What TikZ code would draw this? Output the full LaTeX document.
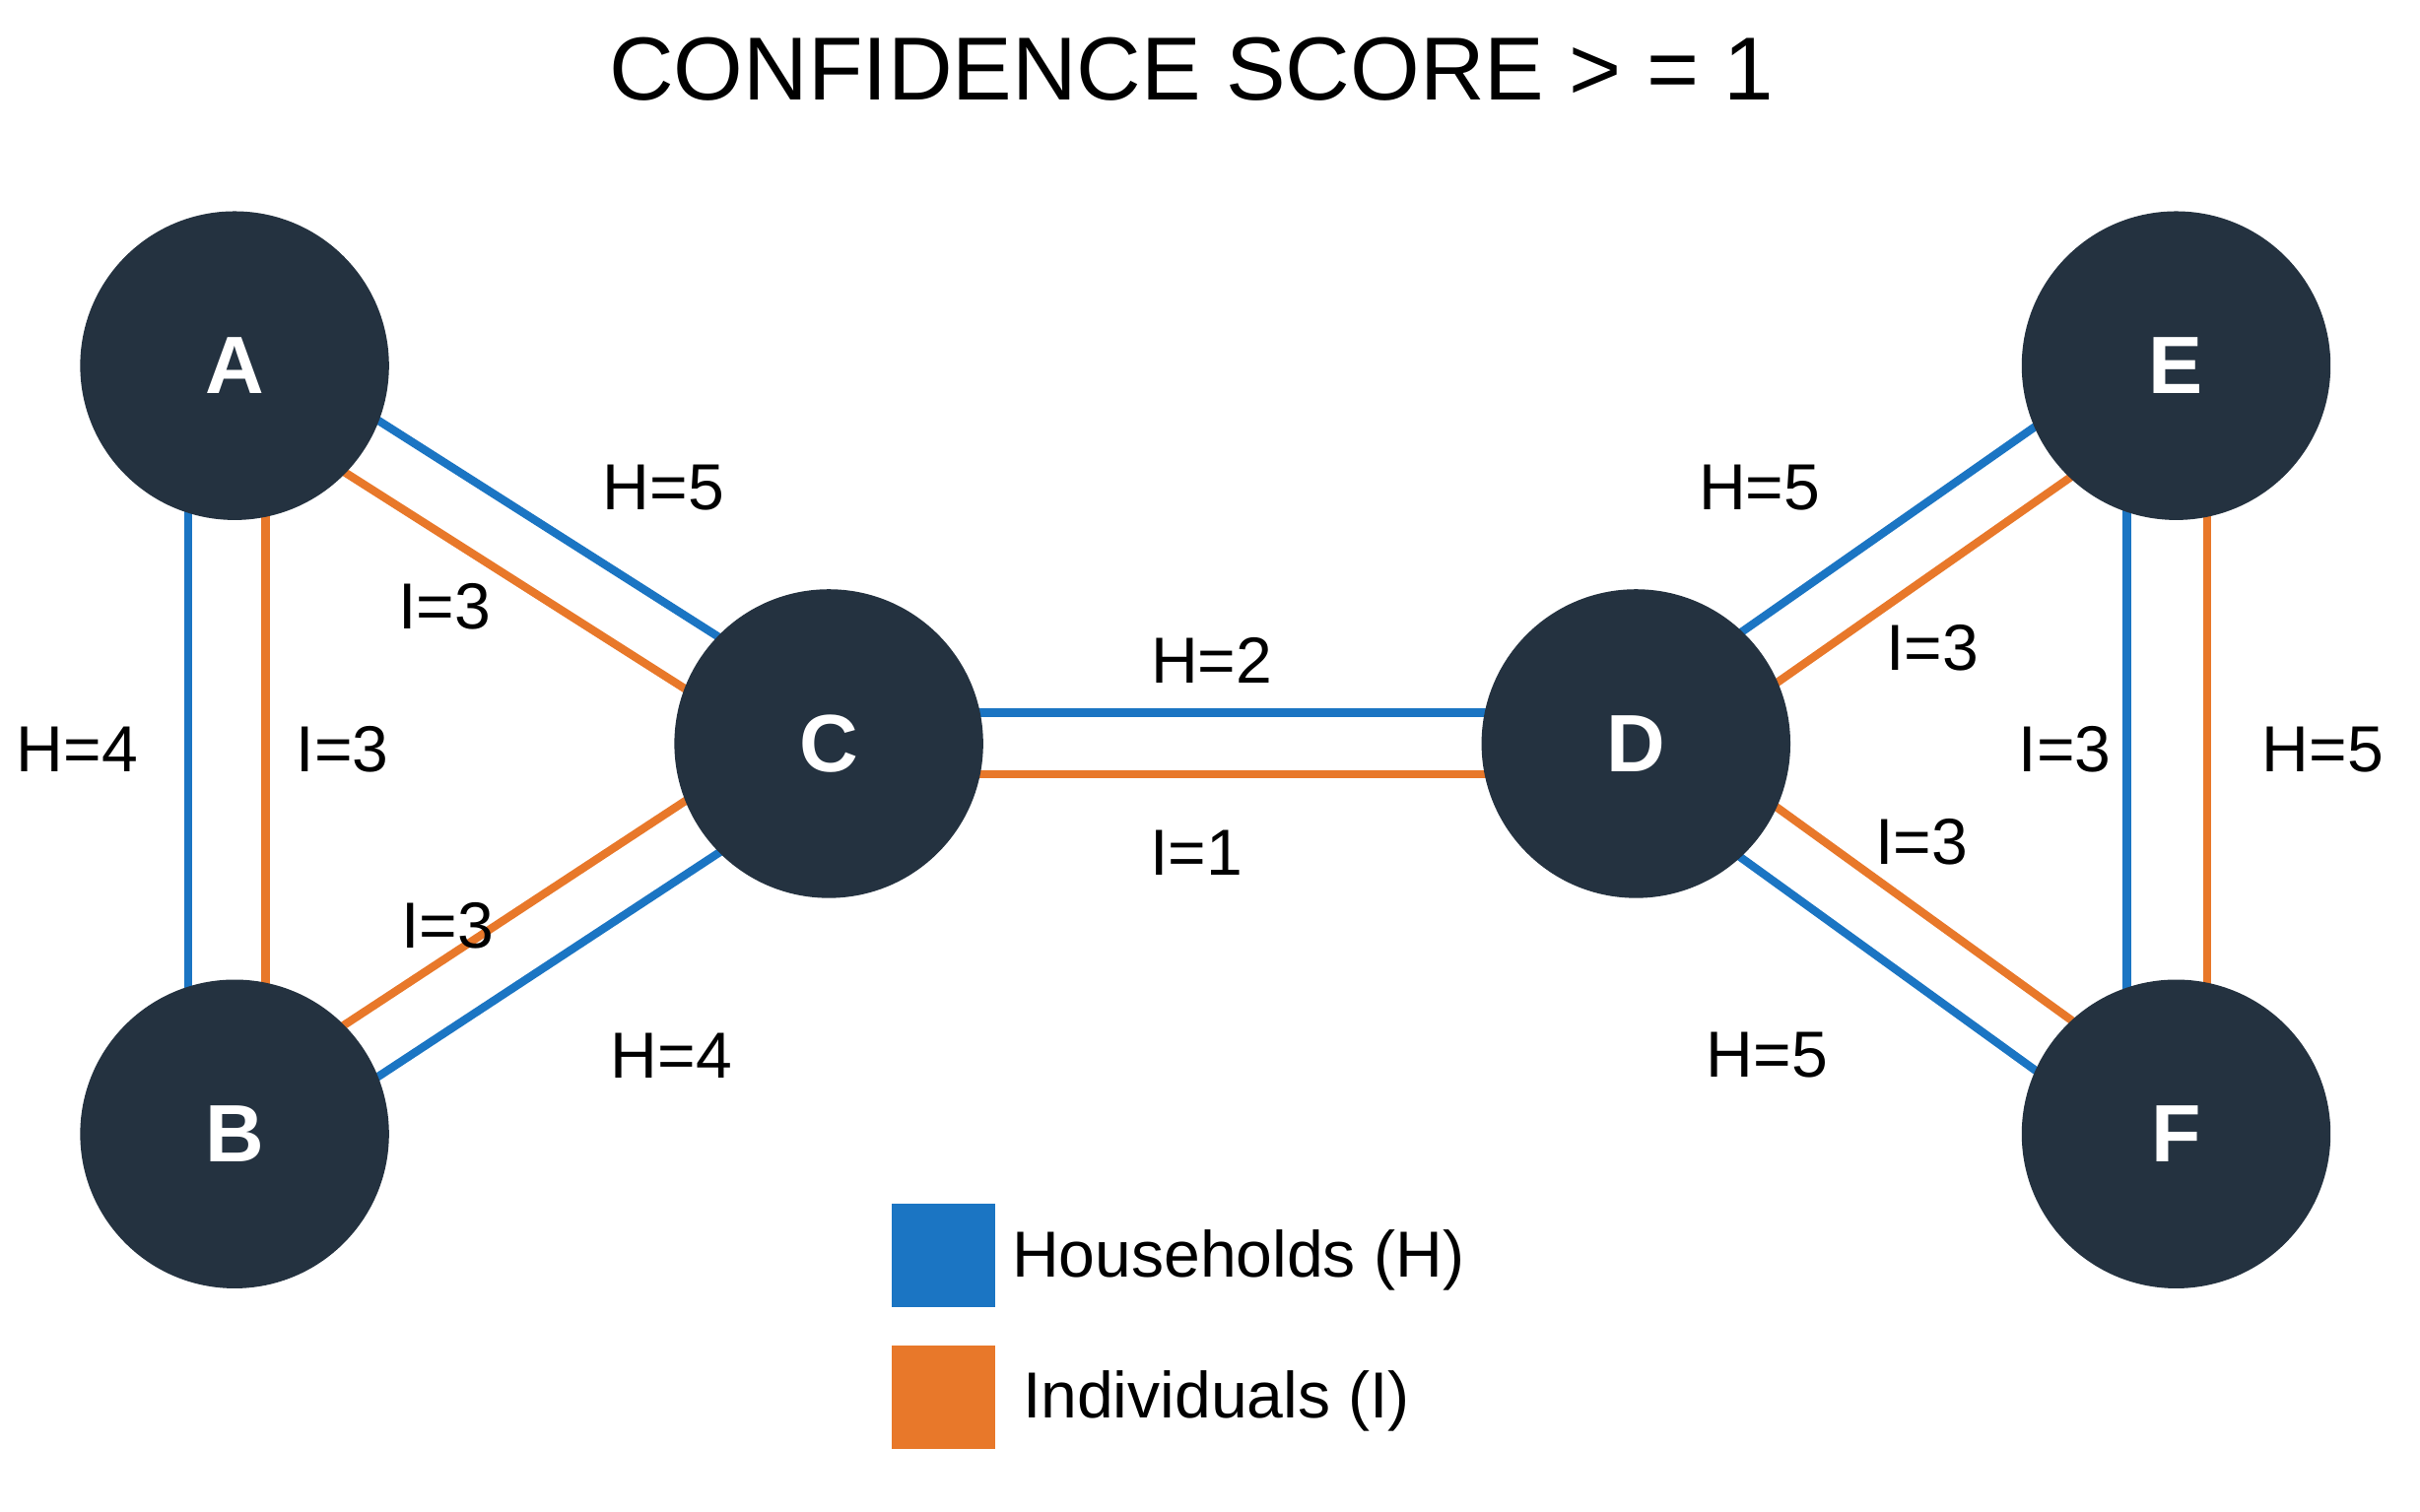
\documentclass[tikz,border=0pt]{standalone}
\usepackage{fontspec}
\setmainfont{Liberation Sans}
\usetikzlibrary{calc}
\definecolor{hblue}{HTML}{1B75C3}
\definecolor{iorange}{HTML}{E8782A}
\definecolor{ndark}{HTML}{243240}
\begin{document}
\begin{tikzpicture}[x=0.01cm,y=-0.01cm,
  nd/.style={circle,fill=ndark,minimum size=2cm,inner sep=0pt,text=white,font=\fontsize{15}{15}\selectfont\bfseries},
  hl/.style={draw=hblue,line width=1.5pt},
  il/.style={draw=iorange,line width=1.5pt},
  lab/.style={font=\fontsize{12}{12}\selectfont,inner sep=0pt}]
\useasboundingbox (0,0) rectangle (1568,980);
\fill[white] (0,0) rectangle (1568,980);
\coordinate (A) at (152,237); \coordinate (B) at (152,735);
\coordinate (C) at (537,482); \coordinate (D) at (1060,482);
\coordinate (E) at (1410,237); \coordinate (F) at (1410,735);
\newcommand{\pr}[4]{\draw[#1] ($(#2)!#4!90:(#3)$) -- ($(#3)!#4!-90:(#2)$);}
\pr{hl}{A}{B}{-0.3cm}\pr{il}{A}{B}{0.2cm}
\pr{hl}{A}{C}{0.2cm}\pr{il}{A}{C}{-0.2cm}
\pr{il}{B}{C}{0.2cm}\pr{hl}{B}{C}{-0.2cm}
\pr{hl}{C}{D}{0.2cm}\pr{il}{C}{D}{-0.2cm}
\pr{hl}{D}{E}{0.2cm}\pr{il}{D}{E}{-0.2cm}
\pr{il}{D}{F}{0.2cm}\pr{hl}{D}{F}{-0.2cm}
\pr{il}{E}{F}{0.2cm}\pr{hl}{E}{F}{-0.32cm}
\foreach \n in {A,B,C,D,E,F} \node[nd] (n\n) at (\n) {\n};
\node[font=\fontsize{16.5}{16.5}\selectfont] (title) at (772,45) {CONFIDENCE SCORE > = 1};
\node[lab] (l1) at (430,316) {H=5};
\node[lab] (l2) at (288,393) {I=3};
\node[lab] (l3) at (50,486) {H=4};
\node[lab] (l4) at (222,486) {I=3};
\node[lab] (l5) at (290,600) {I=3};
\node[lab] (l6) at (435,684) {H=4};
\node[lab] (l7) at (785,428) {H=2};
\node[lab] (l8) at (775,553) {I=1};
\node[lab] (l9) at (1140,316) {H=5};
\node[lab] (l10) at (1252,420) {I=3};
\node[lab] (l11) at (1338,486) {I=3};
\node[lab] (l12) at (1505,486) {H=5};
\node[lab] (l13) at (1245,546) {I=3};
\node[lab] (l14) at (1145,684) {H=5};
\fill[hblue] (578,780) rectangle (645,847);
\fill[iorange] (578,872) rectangle (645,939);
\node[lab,anchor=west] (lh) at (655,817) {Households (H)};
\node[lab,anchor=west] (li) at (662,908) {Individuals (I)};
\end{tikzpicture}
\end{document}
